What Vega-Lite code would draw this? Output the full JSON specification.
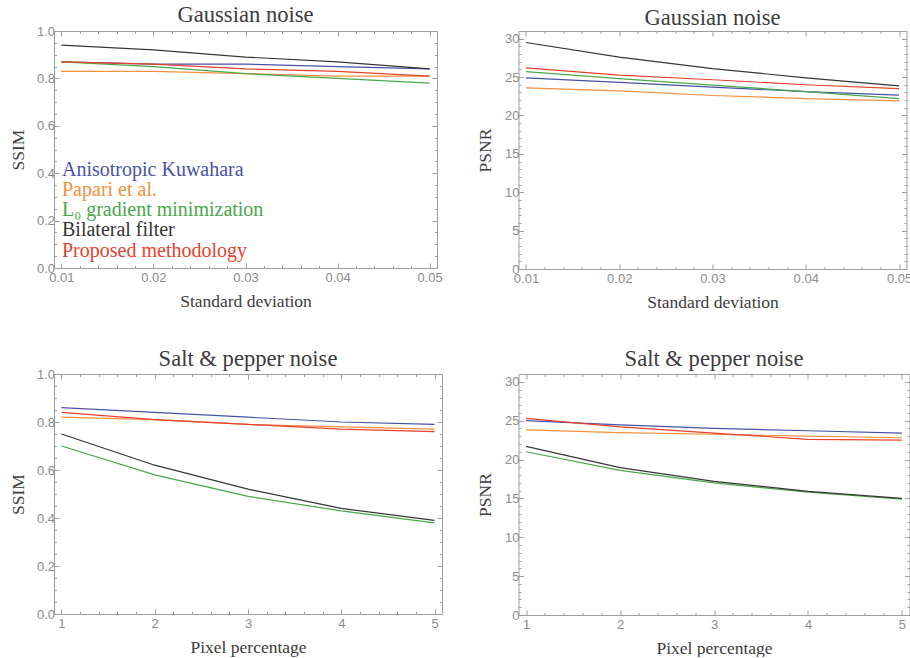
{
  "$schema": "https://vega.github.io/schema/vega-lite/v6.json",
  "background": "white",
  "padding": {"left": 8, "top": 3, "right": 0, "bottom": 0},
  "bounds": "flush",
  "align": "each",
  "spacing": {"row": 105, "column": 76.5},
  "columns": 2,
  "resolve": {"scale": {"color": "shared"}, "legend": {"color": "independent"}},
  "config": {
    "view": {"stroke": "#9e9e9e", "strokeWidth": 1},
    "axis": {"domain": false, "grid": false, "tickColor": "#9e9e9e", "tickWidth": 1, "labelFont": "Liberation Sans", "labelFontSize": 13, "labelColor": "#8c8c8c", "titleFont": "Liberation Serif", "titleFontSize": 17.5, "titleFontWeight": "normal", "titleColor": "#3c3c3c"},
    "title": {"font": "Liberation Serif", "fontSize": 22.6, "fontWeight": "normal", "color": "#3c3c3c"},
    "legend": {"labelFont": "Liberation Serif", "labelFontSize": 20},
    "line": {"strokeWidth": 1.2}
  },
  "datasets": {
    "d": [
      {"noise": "g", "metric": "SSIM", "level": 0.01, "method": "Anisotropic Kuwahara", "value": 0.87},
      {"noise": "g", "metric": "SSIM", "level": 0.02, "method": "Anisotropic Kuwahara", "value": 0.86},
      {"noise": "g", "metric": "SSIM", "level": 0.03, "method": "Anisotropic Kuwahara", "value": 0.86},
      {"noise": "g", "metric": "SSIM", "level": 0.04, "method": "Anisotropic Kuwahara", "value": 0.85},
      {"noise": "g", "metric": "SSIM", "level": 0.05, "method": "Anisotropic Kuwahara", "value": 0.84},
      {"noise": "g", "metric": "SSIM", "level": 0.01, "method": "Papari et al.", "value": 0.83},
      {"noise": "g", "metric": "SSIM", "level": 0.02, "method": "Papari et al.", "value": 0.83},
      {"noise": "g", "metric": "SSIM", "level": 0.03, "method": "Papari et al.", "value": 0.82},
      {"noise": "g", "metric": "SSIM", "level": 0.04, "method": "Papari et al.", "value": 0.81},
      {"noise": "g", "metric": "SSIM", "level": 0.05, "method": "Papari et al.", "value": 0.81},
      {"noise": "g", "metric": "SSIM", "level": 0.01, "method": "L₀ gradient minimization", "value": 0.87},
      {"noise": "g", "metric": "SSIM", "level": 0.02, "method": "L₀ gradient minimization", "value": 0.85},
      {"noise": "g", "metric": "SSIM", "level": 0.03, "method": "L₀ gradient minimization", "value": 0.82},
      {"noise": "g", "metric": "SSIM", "level": 0.04, "method": "L₀ gradient minimization", "value": 0.80},
      {"noise": "g", "metric": "SSIM", "level": 0.05, "method": "L₀ gradient minimization", "value": 0.78},
      {"noise": "g", "metric": "SSIM", "level": 0.01, "method": "Bilateral filter", "value": 0.94},
      {"noise": "g", "metric": "SSIM", "level": 0.02, "method": "Bilateral filter", "value": 0.92},
      {"noise": "g", "metric": "SSIM", "level": 0.03, "method": "Bilateral filter", "value": 0.89},
      {"noise": "g", "metric": "SSIM", "level": 0.04, "method": "Bilateral filter", "value": 0.87},
      {"noise": "g", "metric": "SSIM", "level": 0.05, "method": "Bilateral filter", "value": 0.84},
      {"noise": "g", "metric": "SSIM", "level": 0.01, "method": "Proposed methodology", "value": 0.87},
      {"noise": "g", "metric": "SSIM", "level": 0.02, "method": "Proposed methodology", "value": 0.86},
      {"noise": "g", "metric": "SSIM", "level": 0.03, "method": "Proposed methodology", "value": 0.84},
      {"noise": "g", "metric": "SSIM", "level": 0.04, "method": "Proposed methodology", "value": 0.83},
      {"noise": "g", "metric": "SSIM", "level": 0.05, "method": "Proposed methodology", "value": 0.81},

      {"noise": "g", "metric": "PSNR", "level": 0.01, "method": "Anisotropic Kuwahara", "value": 24.9},
      {"noise": "g", "metric": "PSNR", "level": 0.02, "method": "Anisotropic Kuwahara", "value": 24.3},
      {"noise": "g", "metric": "PSNR", "level": 0.03, "method": "Anisotropic Kuwahara", "value": 23.7},
      {"noise": "g", "metric": "PSNR", "level": 0.04, "method": "Anisotropic Kuwahara", "value": 23.1},
      {"noise": "g", "metric": "PSNR", "level": 0.05, "method": "Anisotropic Kuwahara", "value": 22.65},
      {"noise": "g", "metric": "PSNR", "level": 0.01, "method": "Papari et al.", "value": 23.6},
      {"noise": "g", "metric": "PSNR", "level": 0.02, "method": "Papari et al.", "value": 23.2},
      {"noise": "g", "metric": "PSNR", "level": 0.03, "method": "Papari et al.", "value": 22.6},
      {"noise": "g", "metric": "PSNR", "level": 0.04, "method": "Papari et al.", "value": 22.2},
      {"noise": "g", "metric": "PSNR", "level": 0.05, "method": "Papari et al.", "value": 21.9},
      {"noise": "g", "metric": "PSNR", "level": 0.01, "method": "L₀ gradient minimization", "value": 25.7},
      {"noise": "g", "metric": "PSNR", "level": 0.02, "method": "L₀ gradient minimization", "value": 24.8},
      {"noise": "g", "metric": "PSNR", "level": 0.03, "method": "L₀ gradient minimization", "value": 23.96},
      {"noise": "g", "metric": "PSNR", "level": 0.04, "method": "L₀ gradient minimization", "value": 23.1},
      {"noise": "g", "metric": "PSNR", "level": 0.05, "method": "L₀ gradient minimization", "value": 22.2},
      {"noise": "g", "metric": "PSNR", "level": 0.01, "method": "Bilateral filter", "value": 29.5},
      {"noise": "g", "metric": "PSNR", "level": 0.02, "method": "Bilateral filter", "value": 27.6},
      {"noise": "g", "metric": "PSNR", "level": 0.03, "method": "Bilateral filter", "value": 26.1},
      {"noise": "g", "metric": "PSNR", "level": 0.04, "method": "Bilateral filter", "value": 24.9},
      {"noise": "g", "metric": "PSNR", "level": 0.05, "method": "Bilateral filter", "value": 23.85},
      {"noise": "g", "metric": "PSNR", "level": 0.01, "method": "Proposed methodology", "value": 26.2},
      {"noise": "g", "metric": "PSNR", "level": 0.02, "method": "Proposed methodology", "value": 25.25},
      {"noise": "g", "metric": "PSNR", "level": 0.03, "method": "Proposed methodology", "value": 24.65},
      {"noise": "g", "metric": "PSNR", "level": 0.04, "method": "Proposed methodology", "value": 24.0},
      {"noise": "g", "metric": "PSNR", "level": 0.05, "method": "Proposed methodology", "value": 23.5},

      {"noise": "sp", "metric": "SSIM", "level": 1, "method": "Anisotropic Kuwahara", "value": 0.86},
      {"noise": "sp", "metric": "SSIM", "level": 2, "method": "Anisotropic Kuwahara", "value": 0.84},
      {"noise": "sp", "metric": "SSIM", "level": 3, "method": "Anisotropic Kuwahara", "value": 0.82},
      {"noise": "sp", "metric": "SSIM", "level": 4, "method": "Anisotropic Kuwahara", "value": 0.80},
      {"noise": "sp", "metric": "SSIM", "level": 5, "method": "Anisotropic Kuwahara", "value": 0.79},
      {"noise": "sp", "metric": "SSIM", "level": 1, "method": "Papari et al.", "value": 0.82},
      {"noise": "sp", "metric": "SSIM", "level": 2, "method": "Papari et al.", "value": 0.81},
      {"noise": "sp", "metric": "SSIM", "level": 3, "method": "Papari et al.", "value": 0.79},
      {"noise": "sp", "metric": "SSIM", "level": 4, "method": "Papari et al.", "value": 0.78},
      {"noise": "sp", "metric": "SSIM", "level": 5, "method": "Papari et al.", "value": 0.77},
      {"noise": "sp", "metric": "SSIM", "level": 1, "method": "L₀ gradient minimization", "value": 0.70},
      {"noise": "sp", "metric": "SSIM", "level": 2, "method": "L₀ gradient minimization", "value": 0.58},
      {"noise": "sp", "metric": "SSIM", "level": 3, "method": "L₀ gradient minimization", "value": 0.49},
      {"noise": "sp", "metric": "SSIM", "level": 4, "method": "L₀ gradient minimization", "value": 0.43},
      {"noise": "sp", "metric": "SSIM", "level": 5, "method": "L₀ gradient minimization", "value": 0.38},
      {"noise": "sp", "metric": "SSIM", "level": 1, "method": "Bilateral filter", "value": 0.75},
      {"noise": "sp", "metric": "SSIM", "level": 2, "method": "Bilateral filter", "value": 0.62},
      {"noise": "sp", "metric": "SSIM", "level": 3, "method": "Bilateral filter", "value": 0.52},
      {"noise": "sp", "metric": "SSIM", "level": 4, "method": "Bilateral filter", "value": 0.44},
      {"noise": "sp", "metric": "SSIM", "level": 5, "method": "Bilateral filter", "value": 0.39},
      {"noise": "sp", "metric": "SSIM", "level": 1, "method": "Proposed methodology", "value": 0.84},
      {"noise": "sp", "metric": "SSIM", "level": 2, "method": "Proposed methodology", "value": 0.81},
      {"noise": "sp", "metric": "SSIM", "level": 3, "method": "Proposed methodology", "value": 0.79},
      {"noise": "sp", "metric": "SSIM", "level": 4, "method": "Proposed methodology", "value": 0.77},
      {"noise": "sp", "metric": "SSIM", "level": 5, "method": "Proposed methodology", "value": 0.76},

      {"noise": "sp", "metric": "PSNR", "level": 1, "method": "Anisotropic Kuwahara", "value": 25.0},
      {"noise": "sp", "metric": "PSNR", "level": 2, "method": "Anisotropic Kuwahara", "value": 24.45},
      {"noise": "sp", "metric": "PSNR", "level": 3, "method": "Anisotropic Kuwahara", "value": 24.0},
      {"noise": "sp", "metric": "PSNR", "level": 4, "method": "Anisotropic Kuwahara", "value": 23.7},
      {"noise": "sp", "metric": "PSNR", "level": 5, "method": "Anisotropic Kuwahara", "value": 23.4},
      {"noise": "sp", "metric": "PSNR", "level": 1, "method": "Papari et al.", "value": 23.8},
      {"noise": "sp", "metric": "PSNR", "level": 2, "method": "Papari et al.", "value": 23.45},
      {"noise": "sp", "metric": "PSNR", "level": 3, "method": "Papari et al.", "value": 23.25},
      {"noise": "sp", "metric": "PSNR", "level": 4, "method": "Papari et al.", "value": 23.0},
      {"noise": "sp", "metric": "PSNR", "level": 5, "method": "Papari et al.", "value": 22.8},
      {"noise": "sp", "metric": "PSNR", "level": 1, "method": "L₀ gradient minimization", "value": 21.0},
      {"noise": "sp", "metric": "PSNR", "level": 2, "method": "L₀ gradient minimization", "value": 18.6},
      {"noise": "sp", "metric": "PSNR", "level": 3, "method": "L₀ gradient minimization", "value": 17.0},
      {"noise": "sp", "metric": "PSNR", "level": 4, "method": "L₀ gradient minimization", "value": 15.8},
      {"noise": "sp", "metric": "PSNR", "level": 5, "method": "L₀ gradient minimization", "value": 14.9},
      {"noise": "sp", "metric": "PSNR", "level": 1, "method": "Bilateral filter", "value": 21.7},
      {"noise": "sp", "metric": "PSNR", "level": 2, "method": "Bilateral filter", "value": 18.95},
      {"noise": "sp", "metric": "PSNR", "level": 3, "method": "Bilateral filter", "value": 17.2},
      {"noise": "sp", "metric": "PSNR", "level": 4, "method": "Bilateral filter", "value": 15.9},
      {"noise": "sp", "metric": "PSNR", "level": 5, "method": "Bilateral filter", "value": 15.0},
      {"noise": "sp", "metric": "PSNR", "level": 1, "method": "Proposed methodology", "value": 25.3},
      {"noise": "sp", "metric": "PSNR", "level": 2, "method": "Proposed methodology", "value": 24.2},
      {"noise": "sp", "metric": "PSNR", "level": 3, "method": "Proposed methodology", "value": 23.4},
      {"noise": "sp", "metric": "PSNR", "level": 4, "method": "Proposed methodology", "value": 22.6},
      {"noise": "sp", "metric": "PSNR", "level": 5, "method": "Proposed methodology", "value": 22.5}
    ]
  },
  "concat": [
    {
      "width": 383, "height": 237,
      "data": {"name": "d"},
      "transform": [{"filter": "datum.noise == 'g' && datum.metric == 'SSIM'"}],
      "title": {"text": "Gaussian noise", "frame": "group", "anchor": "middle", "baseline": "alphabetic", "offset": -19.5},
      "layer": [
        {
          "mark": {"type": "line"},
          "encoding": {
            "x": {"field": "level", "type": "quantitative", "scale": {"domain": [0.0092, 0.0508], "nice": false, "zero": false},
              "axis": {"orient": "bottom", "values": [0.01,0.012,0.014,0.016,0.018,0.02,0.022,0.024,0.026,0.028,0.03,0.032,0.034,0.036,0.038,0.04,0.042,0.044,0.046,0.048,0.05],
                "labelExpr": "abs(datum.value*100-round(datum.value*100))<0.01 ? format(datum.value,'.2f') : ''",
                "tickSize": {"condition": {"test": "abs(datum.value*100-round(datum.value*100))<0.01", "value": -5}, "value": -2.5},
                "labelPadding": 8, "labelOverlap": false, "labelFlush": false,
                "title": "Standard deviation", "titleY": 38, "titleBaseline": "alphabetic"}},
            "y": {"field": "value", "type": "quantitative", "scale": {"domain": [0, 1], "nice": false, "zero": false},
              "axis": {"orient": "left", "values": [0,0.05,0.1,0.15,0.2,0.25,0.3,0.35,0.4,0.45,0.5,0.55,0.6,0.65,0.7,0.75,0.8,0.85,0.9,0.95,1],
                "labelExpr": "abs(datum.value*5-round(datum.value*5))<0.01 ? format(datum.value,'.1f') : ''",
                "tickSize": {"condition": {"test": "abs(datum.value*5-round(datum.value*5))<0.01", "value": -5}, "value": -2.5},
                "labelPadding": 4.5, "labelOverlap": false, "labelFlush": false,
                "title": "SSIM", "titleX": -35.6, "titleAngle": 270, "titleBaseline": "middle", "titleAlign": "center"}},
            "color": {"field": "method", "type": "nominal",
              "scale": {"domain": ["Anisotropic Kuwahara", "Papari et al.", "L₀ gradient minimization", "Bilateral filter", "Proposed methodology"], "range": ["#4852a6", "#f58f3e", "#4aa84a", "#363636", "#e8412c"]},
              "legend": {"orient": "none", "legendX": -12, "legendY": 128.5, "title": null, "padding": 0, "symbolSize": 0, "symbolOpacity": 0, "symbolStrokeWidth": 0, "labelOffset": 0, "labelLimit": 400, "rowPadding": 0.25,
                "labelFont": {"expr": "'Liberation Serif'"},
                "labelFontSize": {"expr": "20"},
                "labelColor": {"expr": "scale('color', datum.value)"}}}
          }
        },
        {
          "mark": {"type": "point", "opacity": 0},
          "encoding": {
            "x": {"field": "level", "type": "quantitative", "scale": {"domain": [0.0092, 0.0508], "nice": false, "zero": false},
              "axis": {"orient": "top", "values": [0.01,0.012,0.014,0.016,0.018,0.02,0.022,0.024,0.026,0.028,0.03,0.032,0.034,0.036,0.038,0.04,0.042,0.044,0.046,0.048,0.05], "labels": false, "title": null,
                "tickSize": {"condition": {"test": "abs(datum.value*100-round(datum.value*100))<0.01", "value": -5}, "value": -2.5}}},
            "y": {"field": "value", "type": "quantitative", "scale": {"domain": [0, 1], "nice": false, "zero": false},
              "axis": {"orient": "right", "values": [0,0.05,0.1,0.15,0.2,0.25,0.3,0.35,0.4,0.45,0.5,0.55,0.6,0.65,0.7,0.75,0.8,0.85,0.9,0.95,1], "labels": false, "title": null,
                "tickSize": {"condition": {"test": "abs(datum.value*5-round(datum.value*5))<0.01", "value": -5}, "value": -2.5}}}
          }
        }
      ],
      "resolve": {"axis": {"x": "independent", "y": "independent"}}
    },
    {
      "width": 388, "height": 238,
      "data": {"name": "d"},
      "transform": [{"filter": "datum.noise == 'g' && datum.metric == 'PSNR'"}],
      "title": {"text": "Gaussian noise", "frame": "group", "anchor": "middle", "baseline": "alphabetic", "offset": -16.9},
      "layer": [
        {
          "mark": {"type": "line"},
          "encoding": {
            "x": {"field": "level", "type": "quantitative", "scale": {"domain": [0.0092, 0.0508], "nice": false, "zero": false},
              "axis": {"orient": "bottom", "values": [0.01,0.012,0.014,0.016,0.018,0.02,0.022,0.024,0.026,0.028,0.03,0.032,0.034,0.036,0.038,0.04,0.042,0.044,0.046,0.048,0.05],
                "labelExpr": "abs(datum.value*100-round(datum.value*100))<0.01 ? format(datum.value,'.2f') : ''",
                "tickSize": {"condition": {"test": "abs(datum.value*100-round(datum.value*100))<0.01", "value": -5}, "value": -2.5},
                "labelPadding": 8, "labelOverlap": false, "labelFlush": false,
                "title": "Standard deviation", "titleY": 38, "titleBaseline": "alphabetic"}},
            "y": {"field": "value", "type": "quantitative", "scale": {"domain": [0, 31], "nice": false, "zero": false},
              "axis": {"orient": "left", "values": [0,1,2,3,4,5,6,7,8,9,10,11,12,13,14,15,16,17,18,19,20,21,22,23,24,25,26,27,28,29,30],
                "labelExpr": "abs(datum.value/5-round(datum.value/5))<0.01 ? format(datum.value,'d') : ''",
                "tickSize": {"condition": {"test": "abs(datum.value/5-round(datum.value/5))<0.01", "value": -5}, "value": -2.5},
                "labelPadding": 4.5, "labelOverlap": false, "labelFlush": false,
                "title": "PSNR", "titleX": -33, "titleAngle": 270, "titleBaseline": "middle", "titleAlign": "center"}},
            "color": {"field": "method", "type": "nominal", "legend": null}
          }
        },
        {
          "mark": {"type": "point", "opacity": 0},
          "encoding": {
            "x": {"field": "level", "type": "quantitative", "scale": {"domain": [0.0092, 0.0508], "nice": false, "zero": false},
              "axis": {"orient": "top", "values": [0.01,0.012,0.014,0.016,0.018,0.02,0.022,0.024,0.026,0.028,0.03,0.032,0.034,0.036,0.038,0.04,0.042,0.044,0.046,0.048,0.05], "labels": false, "title": null,
                "tickSize": {"condition": {"test": "abs(datum.value*100-round(datum.value*100))<0.01", "value": -5}, "value": -2.5}}},
            "y": {"field": "value", "type": "quantitative", "scale": {"domain": [0, 31], "nice": false, "zero": false},
              "axis": {"orient": "right", "values": [0,1,2,3,4,5,6,7,8,9,10,11,12,13,14,15,16,17,18,19,20,21,22,23,24,25,26,27,28,29,30], "labels": false, "title": null,
                "tickSize": {"condition": {"test": "abs(datum.value/5-round(datum.value/5))<0.01", "value": -5}, "value": -2.5}}}
          }
        }
      ],
      "resolve": {"axis": {"x": "independent", "y": "independent"}}
    },
    {
      "width": 388, "height": 240,
      "data": {"name": "d"},
      "transform": [{"filter": "datum.noise == 'sp' && datum.metric == 'SSIM'"}],
      "title": {"text": "Salt & pepper noise", "frame": "group", "anchor": "middle", "baseline": "alphabetic", "offset": -20.7},
      "layer": [
        {
          "mark": {"type": "line"},
          "encoding": {
            "x": {"field": "level", "type": "quantitative", "scale": {"domain": [0.92, 5.08], "nice": false, "zero": false},
              "axis": {"orient": "bottom", "values": [1,1.2,1.4,1.6,1.8,2,2.2,2.4,2.6,2.8,3,3.2,3.4,3.6,3.8,4,4.2,4.4,4.6,4.8,5],
                "labelExpr": "abs(datum.value-round(datum.value))<0.01 ? format(datum.value,'d') : ''",
                "tickSize": {"condition": {"test": "abs(datum.value-round(datum.value))<0.01", "value": -5}, "value": -2.5},
                "labelPadding": 8, "labelOverlap": false, "labelFlush": false,
                "title": "Pixel percentage", "titleY": 38, "titleBaseline": "alphabetic"}},
            "y": {"field": "value", "type": "quantitative", "scale": {"domain": [0, 1], "nice": false, "zero": false},
              "axis": {"orient": "left", "values": [0,0.05,0.1,0.15,0.2,0.25,0.3,0.35,0.4,0.45,0.5,0.55,0.6,0.65,0.7,0.75,0.8,0.85,0.9,0.95,1],
                "labelExpr": "abs(datum.value*5-round(datum.value*5))<0.01 ? format(datum.value,'.1f') : ''",
                "tickSize": {"condition": {"test": "abs(datum.value*5-round(datum.value*5))<0.01", "value": -5}, "value": -2.5},
                "labelPadding": 4.5, "labelOverlap": false, "labelFlush": false,
                "title": "SSIM", "titleX": -35.6, "titleAngle": 270, "titleBaseline": "middle", "titleAlign": "center"}},
            "color": {"field": "method", "type": "nominal", "legend": null}
          }
        },
        {
          "mark": {"type": "point", "opacity": 0},
          "encoding": {
            "x": {"field": "level", "type": "quantitative", "scale": {"domain": [0.92, 5.08], "nice": false, "zero": false},
              "axis": {"orient": "top", "values": [1,1.2,1.4,1.6,1.8,2,2.2,2.4,2.6,2.8,3,3.2,3.4,3.6,3.8,4,4.2,4.4,4.6,4.8,5], "labels": false, "title": null,
                "tickSize": {"condition": {"test": "abs(datum.value-round(datum.value))<0.01", "value": -5}, "value": -2.5}}},
            "y": {"field": "value", "type": "quantitative", "scale": {"domain": [0, 1], "nice": false, "zero": false},
              "axis": {"orient": "right", "values": [0,0.05,0.1,0.15,0.2,0.25,0.3,0.35,0.4,0.45,0.5,0.55,0.6,0.65,0.7,0.75,0.8,0.85,0.9,0.95,1], "labels": false, "title": null,
                "tickSize": {"condition": {"test": "abs(datum.value*5-round(datum.value*5))<0.01", "value": -5}, "value": -2.5}}}
          }
        }
      ],
      "resolve": {"axis": {"x": "independent", "y": "independent"}}
    },
    {
      "width": 391, "height": 241,
      "data": {"name": "d"},
      "transform": [{"filter": "datum.noise == 'sp' && datum.metric == 'PSNR'"}],
      "title": {"text": "Salt & pepper noise", "frame": "group", "anchor": "middle", "baseline": "alphabetic", "offset": -15},
      "layer": [
        {
          "mark": {"type": "line"},
          "encoding": {
            "x": {"field": "level", "type": "quantitative", "scale": {"domain": [0.92, 5.08], "nice": false, "zero": false},
              "axis": {"orient": "bottom", "values": [1,1.2,1.4,1.6,1.8,2,2.2,2.4,2.6,2.8,3,3.2,3.4,3.6,3.8,4,4.2,4.4,4.6,4.8,5],
                "labelExpr": "abs(datum.value-round(datum.value))<0.01 ? format(datum.value,'d') : ''",
                "tickSize": {"condition": {"test": "abs(datum.value-round(datum.value))<0.01", "value": -5}, "value": -2.5},
                "labelPadding": 8, "labelOverlap": false, "labelFlush": false,
                "title": "Pixel percentage", "titleY": 38, "titleBaseline": "alphabetic"}},
            "y": {"field": "value", "type": "quantitative", "scale": {"domain": [0, 31], "nice": false, "zero": false},
              "axis": {"orient": "left", "values": [0,1,2,3,4,5,6,7,8,9,10,11,12,13,14,15,16,17,18,19,20,21,22,23,24,25,26,27,28,29,30],
                "labelExpr": "abs(datum.value/5-round(datum.value/5))<0.01 ? format(datum.value,'d') : ''",
                "tickSize": {"condition": {"test": "abs(datum.value/5-round(datum.value/5))<0.01", "value": -5}, "value": -2.5},
                "labelPadding": 4.5, "labelOverlap": false, "labelFlush": false,
                "title": "PSNR", "titleX": -33, "titleAngle": 270, "titleBaseline": "middle", "titleAlign": "center"}},
            "color": {"field": "method", "type": "nominal", "legend": null}
          }
        },
        {
          "mark": {"type": "point", "opacity": 0},
          "encoding": {
            "x": {"field": "level", "type": "quantitative", "scale": {"domain": [0.92, 5.08], "nice": false, "zero": false},
              "axis": {"orient": "top", "values": [1,1.2,1.4,1.6,1.8,2,2.2,2.4,2.6,2.8,3,3.2,3.4,3.6,3.8,4,4.2,4.4,4.6,4.8,5], "labels": false, "title": null,
                "tickSize": {"condition": {"test": "abs(datum.value-round(datum.value))<0.01", "value": -5}, "value": -2.5}}},
            "y": {"field": "value", "type": "quantitative", "scale": {"domain": [0, 31], "nice": false, "zero": false},
              "axis": {"orient": "right", "values": [0,1,2,3,4,5,6,7,8,9,10,11,12,13,14,15,16,17,18,19,20,21,22,23,24,25,26,27,28,29,30], "labels": false, "title": null,
                "tickSize": {"condition": {"test": "abs(datum.value/5-round(datum.value/5))<0.01", "value": -5}, "value": -2.5}}}
          }
        }
      ],
      "resolve": {"axis": {"x": "independent", "y": "independent"}}
    }
  ]
}
